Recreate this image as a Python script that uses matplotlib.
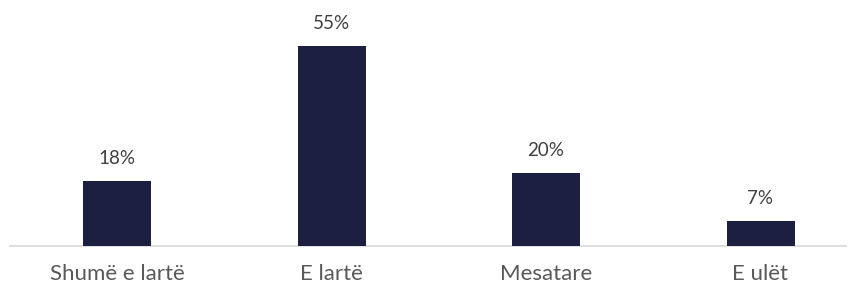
import matplotlib
matplotlib.use("Agg")
import matplotlib.pyplot as plt

categories = ["Shumë e lartë", "E lartë", "Mesatare", "E ulët"]
values = [18, 55, 20, 7]
labels = ["18%", "55%", "20%", "7%"]

plt.rcParams['font.family'] = ['Lato', 'DejaVu Sans']

W, H = 856, 288
fig = plt.figure(figsize=(W / 100, H / 100), dpi=100)
ax_left, ax_right = 10, 846
base_y = 246
ppu = 200 / 55.0
ymax = 62
ax_h = ymax * ppu
ax = fig.add_axes([ax_left / W, (H - base_y) / H, (ax_right - ax_left) / W, ax_h / H])

step = 214.5
x = list(range(len(categories)))
ax.bar(x, values, width=68 / step, color="#1c1f3f", zorder=3)
ax.set_xlim(-107 / step, 3 + 85.5 / step)
ax.set_ylim(0, ymax)

for xi, v, lab in zip(x, values, labels):
    ax.annotate(lab, (xi, v), xytext=(0, 10), textcoords="offset points",
                ha="center", va="bottom", fontsize=13.5, color="#404040")

for s in ["top", "right", "left"]:
    ax.spines[s].set_visible(False)
ax.spines["bottom"].set_color("#d9d9d9")
ax.spines["bottom"].set_linewidth(1.2)
ax.set_yticks([])
ax.set_xticks(x)
ax.set_xticklabels(categories, fontsize=16, color="#595959")
ax.tick_params(axis="x", length=0, pad=13)

fig.savefig("out.png", dpi=100)
